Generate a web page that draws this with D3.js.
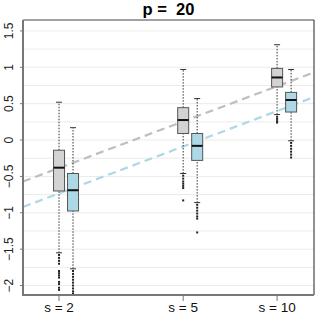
<!DOCTYPE html>
<html>
<head>
<meta charset="utf-8">
<script src="https://cdn.jsdelivr.net/npm/d3@7"></script>
<style>
  body { margin: 0; background: #fff; }
  text { font-family: "Liberation Sans", Arial, sans-serif; }
</style>
</head>
<body>
<svg id="chart"></svg>
<script>
// data
const sValues = [2, 5, 10];
const xLabels = ["s = 2", "s = 5", "s = 10"];
const yTicks = [-2, -1.5, -1, -0.5, 0, 0.5, 1, 1.5];
const gridVals = d3.range(-2, 1.51, 0.25);

// box stats: [whiskerLow, q1, median, q3, whiskerHigh]
const grayStats = [
  [-1.55, -0.70, -0.38, -0.14, 0.52],
  [-0.46, 0.09, 0.275, 0.445, 0.97],
  [0.35, 0.73, 0.86, 0.985, 1.31]
];
const blueStats = [
  [-1.77, -0.975, -0.69, -0.46, 0.17],
  [-0.86, -0.28, -0.08, 0.09, 0.57],
  [-0.01, 0.385, 0.55, 0.655, 0.97]
];
const grayOutliers = [
  [-1.58, -1.62, -1.66, -1.70, -1.80, -1.83, -1.86, -1.89, -1.95, -1.98, -2.03, -2.06],
  [-0.49, -0.53, -0.57, -0.60, -0.63, -0.66, -0.83],
  [0.32, 0.29, 0.26, 0.24]
];
const blueOutliers = [
  [-1.80, -1.84, -1.88, -1.92, -1.96, -2.00, -2.04, -2.08, -2.11],
  [-0.89, -0.93, -0.97, -1.01, -1.05, -1.08, -1.27],
  [-0.04, -0.08, -0.12, -0.16, -0.20, -0.24]
];
// fitted dashed lines: y = a + b * ln(s)
const lineIntercepts = [-0.868, -1.22];
const lineSlopes = [0.698, 0.703];

const w = 319, h = 319;
const margin = { top: 20, bottom: 24, left: 23, right: 5 };

const svg = d3.select("#chart").attr("width", w).attr("height", h);

const xScale = d3.scaleLog()
  .domain([1.533, 13.13])
  .range([margin.left, w - margin.right]);
const yScale = d3.scaleLinear()
  .domain([-2.13, 1.65])
  .range([h - margin.bottom, margin.top]);

const x0 = margin.left, x1 = w - margin.right;
const y0 = h - margin.bottom, y1 = margin.top;

// grid
svg.append("g").selectAll("line")
  .data(gridVals)
  .enter().append("line")
  .attr("x1", x0).attr("x2", x1)
  .attr("y1", d => yScale(d)).attr("y2", d => yScale(d))
  .attr("stroke", "#ebebeb").attr("stroke-width", 1);

// dashed lines
const lineColors = ["#bebebe", "#add8e6"];
lineIntercepts.forEach(function(a, i) {
  const b = lineSlopes[i];
  const dom = xScale.domain();
  const pts = dom.map(s => [xScale(s), yScale(a + b * Math.log(s))]);
  svg.append("line")
    .attr("x1", pts[0][0]).attr("y1", pts[0][1])
    .attr("x2", pts[1][0]).attr("y2", pts[1][1])
    .attr("stroke", lineColors[i])
    .attr("stroke-width", 2.2)
    .attr("stroke-dasharray", "8,5");
});

// boxplots
const boxW = 11;
function drawBoxes(stats, outliers, offset, fill) {
  stats.forEach(function(st, i) {
    const cx = xScale(sValues[i]) + offset;
    const g = svg.append("g");
    // whiskers
    g.append("line")
      .attr("x1", cx).attr("x2", cx)
      .attr("y1", yScale(st[0])).attr("y2", yScale(st[1]))
      .attr("stroke", "#333").attr("stroke-dasharray", "1.5,1.5");
    g.append("line")
      .attr("x1", cx).attr("x2", cx)
      .attr("y1", yScale(st[3])).attr("y2", yScale(st[4]))
      .attr("stroke", "#333").attr("stroke-dasharray", "1.5,1.5");
    [st[0], st[4]].forEach(v => {
      g.append("line")
        .attr("x1", cx - 3).attr("x2", cx + 3)
        .attr("y1", yScale(v)).attr("y2", yScale(v))
        .attr("stroke", "#333");
    });
    // box
    g.append("rect")
      .attr("x", cx - boxW / 2)
      .attr("y", yScale(st[3]))
      .attr("width", boxW)
      .attr("height", yScale(st[1]) - yScale(st[3]))
      .attr("fill", fill)
      .attr("stroke", "#555");
    g.append("line")
      .attr("x1", cx - boxW / 2).attr("x2", cx + boxW / 2)
      .attr("y1", yScale(st[2])).attr("y2", yScale(st[2]))
      .attr("stroke", "#111").attr("stroke-width", 2);
    // outliers
    g.selectAll("rect.out")
      .data(outliers[i])
      .enter().append("rect")
      .attr("class", "out")
      .attr("x", cx - 1).attr("y", d => yScale(d) - 1)
      .attr("width", 2).attr("height", 2)
      .attr("fill", "#222");
  });
}
drawBoxes(grayStats, grayOutliers, 0, "#d3d3d3");
drawBoxes(blueStats, blueOutliers, 14, "#add8e6");

// frame
svg.append("line").attr("x1", x0).attr("x2", x1).attr("y1", y1).attr("y2", y1)
  .attr("stroke", "#444").attr("stroke-width", 1);
svg.append("line").attr("x1", x1).attr("x2", x1).attr("y1", y1).attr("y2", y0)
  .attr("stroke", "#222").attr("stroke-width", 1);
svg.append("line").attr("x1", x0).attr("x2", x0).attr("y1", y1).attr("y2", y0 + 1)
  .attr("stroke", "#777").attr("stroke-width", 2);
svg.append("line").attr("x1", x0).attr("x2", x1).attr("y1", y0).attr("y2", y0)
  .attr("stroke", "#777").attr("stroke-width", 2);

// y axis ticks + labels
const yAxisG = svg.append("g");
yTicks.forEach(function(t) {
  const y = yScale(t);
  yAxisG.append("line")
    .attr("x1", x0 - 3).attr("x2", x0).attr("y1", y).attr("y2", y)
    .attr("stroke", "#777");
  yAxisG.append("text")
    .attr("transform", `translate(13,${y})rotate(-90)`)
    .attr("text-anchor", "middle")
    .attr("font-size", 12)
    .attr("fill", "#222")
    .text(d3.format("")(t).replace("-", "\u2212"));
});

// x axis ticks + labels
sValues.forEach(function(s, i) {
  const x = xScale(s);
  svg.append("line")
    .attr("x1", x).attr("x2", x).attr("y1", y0).attr("y2", y0 + 6)
    .attr("stroke", "#777");
  svg.append("text")
    .attr("x", x).attr("y", 312)
    .attr("text-anchor", "middle")
    .attr("font-size", 13.5)
    .attr("fill", "#111")
    .text(xLabels[i]);
});

// title
svg.append("text")
  .attr("x", (x0 + x1) / 2).attr("y", 15)
  .attr("text-anchor", "middle")
  .attr("font-size", 16.5)
  .attr("font-weight", "bold")
  .style("white-space", "pre")
  .text("p =  20");
</script>
</body>
</html>
